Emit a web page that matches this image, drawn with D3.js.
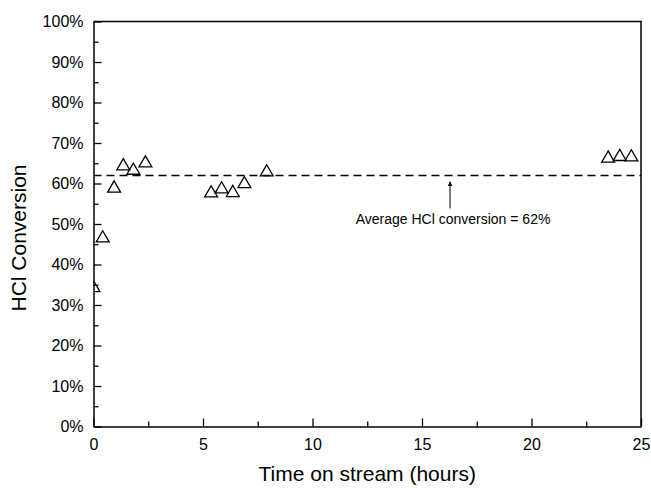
<!DOCTYPE html>
<html>
<head>
<meta charset="utf-8">
<script src="https://cdn.jsdelivr.net/npm/d3@7"></script>
<style>
  body { margin: 0; background: #fff; }
  svg { font-family: "Liberation Sans", Arial, sans-serif; }
  .axis path, .axis line { stroke: #000; }
</style>
</head>
<body>
<svg id="chart" width="651" height="488"></svg>
<script>
// hours on stream and HCl conversion (fraction)
var hours = [0, 0.42, 0.94, 1.36, 1.82, 2.37, 5.37, 5.85, 6.36, 6.89, 7.91, 23.5, 24.03, 24.56];
var conversion = [0.342, 0.465, 0.588, 0.643, 0.632, 0.650, 0.576, 0.586, 0.577, 0.599, 0.628, 0.662, 0.666, 0.665];
var average = 0.62;
var xTicks = [0, 5, 10, 15, 20, 25];
var yTicks = [0, 0.1, 0.2, 0.3, 0.4, 0.5, 0.6, 0.7, 0.8, 0.9, 1];
var noteHour = 16.28;
var noteText = 'Average HCl conversion = 62%';

(function() {
  var svg = d3.select('#chart');
  var margin = { left: 93.5, right: 10, top: 21.5, bottom: 61.5 };
  var width = 651 - margin.left - margin.right;
  var height = 488 - margin.top - margin.bottom;

  var x = d3.scaleLinear().domain([0, 25]).range([0, width]);
  var y = d3.scaleLinear().domain([0, 1]).range([height, 0]);

  var g = svg.append('g')
    .attr('transform', 'translate(' + margin.left + ',' + margin.top + ')');

  g.append('clipPath').attr('id', 'plotClip')
    .append('rect').attr('width', width).attr('height', height);

  // frame (top and right)
  g.append('path')
    .attr('d', 'M0,0H' + width + 'V' + height)
    .attr('fill', 'none')
    .attr('stroke', '#000')
    .attr('stroke-width', 1.5);

  // minor ticks first
  g.append('g')
    .attr('class', 'axis')
    .attr('transform', 'translate(0,' + height + ')')
    .call(d3.axisBottom(x).tickValues(d3.range(2.5, 25, 5)).tickSize(-5).tickFormat(''))
    .call(function(a) { a.select('.domain').remove(); a.selectAll('line').attr('stroke-width', 1.3); });

  g.append('g')
    .attr('class', 'axis')
    .call(d3.axisLeft(y).tickValues(d3.range(0.05, 1, 0.1)).tickSize(-5).tickFormat(''))
    .call(function(a) { a.select('.domain').remove(); a.selectAll('line').attr('stroke-width', 1.3); });

  var xAxis = g.append('g')
    .attr('class', 'axis')
    .attr('transform', 'translate(0,' + height + ')')
    .call(d3.axisBottom(x).tickValues(xTicks).tickSizeInner(-8).tickSizeOuter(0).tickPadding(12));
  xAxis.select('.domain').attr('stroke-width', 1.5);
  xAxis.selectAll('line').attr('stroke-width', 1.3);
  xAxis.selectAll('text').attr('font-size', 16).attr('fill', '#000');

  var yAxis = g.append('g')
    .attr('class', 'axis')
    .call(d3.axisLeft(y).tickValues(yTicks).tickFormat(d3.format('.0%')).tickSizeInner(-8).tickSizeOuter(0).tickPadding(10));
  yAxis.select('.domain').attr('stroke-width', 1.5);
  yAxis.selectAll('line').attr('stroke-width', 1.3);
  yAxis.selectAll('text').attr('font-size', 16).attr('fill', '#000');

  // average line
  g.append('line')
    .attr('x1', 0).attr('x2', width)
    .attr('y1', y(average)).attr('y2', y(average))
    .attr('stroke', '#000')
    .attr('stroke-width', 1.5)
    .attr('stroke-dasharray', '8 5');

  // points
  var tri = d3.symbol().type(d3.symbolTriangle).size(72);
  g.append('g')
    .attr('clip-path', 'url(#plotClip)')
    .selectAll('path')
    .data(hours)
    .enter().append('path')
      .attr('d', tri)
      .attr('transform', function(d, i) { return 'translate(' + x(d) + ',' + y(conversion[i]) + ')'; })
      .attr('fill', 'none')
      .attr('stroke', '#000')
      .attr('stroke-width', 1.3);

  // annotation arrow
  var ax = x(noteHour);
  svg.append('defs').append('marker')
    .attr('id', 'head')
    .attr('viewBox', '0 0 10 10')
    .attr('refX', 10).attr('refY', 5)
    .attr('markerWidth', 5).attr('markerHeight', 9)
    .attr('markerUnits', 'userSpaceOnUse')
    .attr('orient', 'auto')
    .append('path').attr('d', 'M0,0L10,5L0,10Z').attr('fill', '#000');

  g.append('line')
    .attr('x1', ax).attr('x2', ax)
    .attr('y1', y(average) + 33).attr('y2', y(average) + 6)
    .attr('stroke', '#000')
    .attr('stroke-width', 1)
    .attr('marker-end', 'url(#head)');

  g.append('text')
    .attr('x', ax + 3)
    .attr('y', y(average) + 49)
    .attr('text-anchor', 'middle')
    .attr('font-size', 14)
    .text(noteText);

  // axis titles
  svg.append('text')
    .attr('x', margin.left + width / 2)
    .attr('y', 481)
    .attr('text-anchor', 'middle')
    .attr('font-size', 21)
    .text('Time on stream (hours)');

  svg.append('text')
    .attr('transform', 'translate(26,238) rotate(-90)')
    .attr('text-anchor', 'middle')
    .attr('font-size', 21)
    .text('HCl Conversion');
})();
</script>
</body>
</html>
